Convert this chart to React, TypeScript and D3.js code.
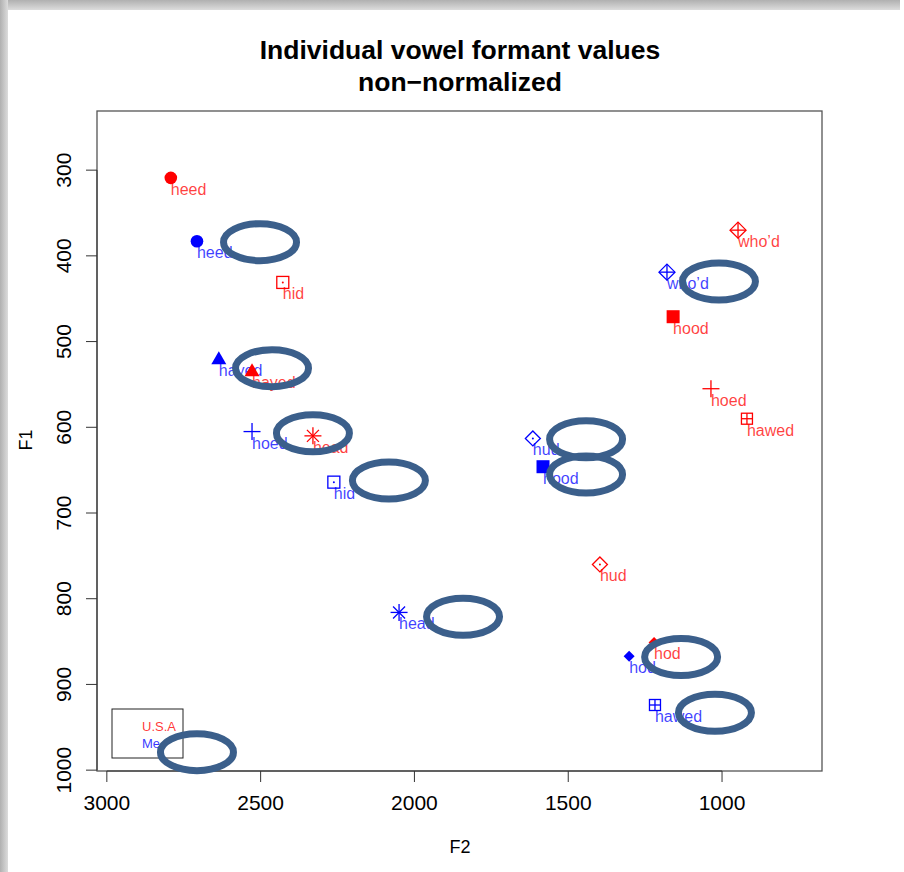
import React, { useEffect, useRef } from 'react';
import * as d3 from 'd3';

// vowel words and the plotting symbol each one uses
const words = ["heed", "hid", "hayed", "head", "hud", "hod", "hood", "who’d", "hoed", "hawed"];
const symbols = ["dot", "squareDot", "triangle", "asterisk", "diamondDot", "smallDiamond", "filledSquare", "diamondPlus", "plus", "squarePlus"];

// U.S.A speaker (red)
const usaF2 = [2792, 2428, 2528, 2330, 1397, 1221, 1159, 948, 1036, 919];
const usaF1 = [309, 431, 534, 610, 760, 851, 471, 370, 555, 590];

// Me (blue)
const meF2 = [2707, 2262, 2636, 2050, 1615, 1302, 1582, 1179, 2528, 1218];
const meF1 = [383, 664, 520, 816, 613, 867, 646, 419, 605, 924];

// hand-drawn ring annotations (F2, F1 of centre)
const ringF2 = [2502, 1010, 2463, 2330, 2083, 1442, 1442, 1842, 1133, 1023, 2707];
const ringF1 = [384, 430, 531, 607, 662, 614, 655, 821, 868, 933, 979];

const xTicks = [3000, 2500, 2000, 1500, 1000];
const yTicks = [300, 400, 500, 600, 700, 800, 900, 1000];

const legendLabels = ["U.S.A", "Me"];
const legendColors = ["red", "blue"];

export default function App() {
  const svgRef = useRef<SVGSVGElement>(null);

  useEffect(() => {
    if (!svgRef.current) return;
    const svg = d3.select(svgRef.current);
    svg.selectAll("*").remove();

    const W = 904, H = 872;
    const font = "'Liberation Sans', Arial, sans-serif";

    // page shadow
    const defs = svg.append("defs");
    const gTop = defs.append("linearGradient").attr("id", "shTop").attr("x1", 0).attr("y1", 0).attr("x2", 0).attr("y2", 1);
    gTop.append("stop").attr("offset", "0%").attr("stop-color", "#b0b0b0");
    gTop.append("stop").attr("offset", "100%").attr("stop-color", "#dcdcdc");
    const gLeft = defs.append("linearGradient").attr("id", "shLeft").attr("x1", 0).attr("y1", 0).attr("x2", 1).attr("y2", 0);
    gLeft.append("stop").attr("offset", "0%").attr("stop-color", "#b0b0b0");
    gLeft.append("stop").attr("offset", "100%").attr("stop-color", "#dcdcdc");

    svg.append("rect").attr("width", W).attr("height", H).attr("fill", "#fff");
    svg.append("rect").attr("x", 0).attr("y", 0).attr("width", W - 4).attr("height", 10).attr("fill", "url(#shTop)");
    svg.append("rect").attr("x", 0).attr("y", 0).attr("width", 8).attr("height", H).attr("fill", "url(#shLeft)");

    const left = 97, right = 822, top = 111, bottom = 771;

    const x = d3.scaleLinear().domain([3032, 675]).range([left, right]);
    const y = d3.scaleLinear().domain([231, 1001]).range([top, bottom]);

    // title
    svg.append("text")
      .attr("x", 460).attr("y", 59)
      .attr("text-anchor", "middle")
      .attr("font-family", font).attr("font-weight", "bold").attr("font-size", 26.5)
      .text("Individual vowel formant values");
    svg.append("text")
      .attr("x", 460).attr("y", 91)
      .attr("text-anchor", "middle")
      .attr("font-family", font).attr("font-weight", "bold").attr("font-size", 26.5)
      .text("non\u2212normalized");

    // box
    svg.append("rect")
      .attr("x", left).attr("y", top)
      .attr("width", right - left).attr("height", bottom - top)
      .attr("fill", "none").attr("stroke", "#555").attr("stroke-width", 1.3);

    // x axis (R style)
    const xa = svg.append("g");
    xa.append("line")
      .attr("x1", x(3000)).attr("x2", x(1000)).attr("y1", bottom).attr("y2", bottom)
      .attr("stroke", "#333");
    xTicks.forEach(t => {
      xa.append("line")
        .attr("x1", x(t)).attr("x2", x(t)).attr("y1", bottom).attr("y2", bottom + 11)
        .attr("stroke", "#333");
      xa.append("text")
        .attr("x", x(t)).attr("y", bottom + 39)
        .attr("text-anchor", "middle")
        .attr("font-family", font).attr("font-size", 21)
        .text(t);
    });
    svg.append("text")
      .attr("x", 460).attr("y", 853)
      .attr("text-anchor", "middle")
      .attr("font-family", font).attr("font-size", 18)
      .text("F2");

    // y axis
    const ya = svg.append("g");
    ya.append("line")
      .attr("x1", left).attr("x2", left).attr("y1", y(300)).attr("y2", y(1000))
      .attr("stroke", "#333");
    yTicks.forEach(t => {
      ya.append("line")
        .attr("x1", left - 11).attr("x2", left).attr("y1", y(t)).attr("y2", y(t))
        .attr("stroke", "#333");
      ya.append("text")
        .attr("transform", `translate(71,${y(t)}) rotate(-90)`)
        .attr("text-anchor", "middle")
        .attr("font-family", font).attr("font-size", 21)
        .text(t);
    });
    svg.append("text")
      .attr("transform", `translate(32,440) rotate(-90)`)
      .attr("text-anchor", "middle")
      .attr("font-family", font).attr("font-size", 18)
      .text("F1");

    // symbols
    const drawSymbol = (g: any, kind: string, cx: number, cy: number, col: string) => {
      const sw = 1.3;
      const ln = (x1: number, y1: number, x2: number, y2: number) =>
        g.append("line").attr("x1", x1).attr("y1", y1).attr("x2", x2).attr("y2", y2)
          .attr("stroke", col).attr("stroke-width", sw);
      const dot = () => g.append("circle").attr("cx", cx).attr("cy", cy).attr("r", 1).attr("fill", col);
      const diamond = (h: number, fill: boolean) =>
        g.append("path")
          .attr("d", `M${cx},${cy - h}L${cx + h},${cy}L${cx},${cy + h}L${cx - h},${cy}Z`)
          .attr("fill", fill ? col : "none")
          .attr("stroke", fill ? "none" : col).attr("stroke-width", sw);
      switch (kind) {
        case "dot":
          g.append("circle").attr("cx", cx).attr("cy", cy).attr("r", 6.3).attr("fill", col);
          break;
        case "triangle":
          g.append("path")
            .attr("d", `M${cx},${cy - 7.5}L${cx + 7.5},${cy + 5.5}L${cx - 7.5},${cy + 5.5}Z`)
            .attr("fill", col);
          break;
        case "squareDot":
          g.append("rect").attr("x", cx - 6).attr("y", cy - 6).attr("width", 12).attr("height", 12)
            .attr("fill", "none").attr("stroke", col).attr("stroke-width", sw);
          dot();
          break;
        case "asterisk":
          ln(cx - 8.5, cy, cx + 8.5, cy);
          ln(cx, cy - 8.5, cx, cy + 8.5);
          ln(cx - 6, cy - 6, cx + 6, cy + 6);
          ln(cx - 6, cy + 6, cx + 6, cy - 6);
          break;
        case "diamondDot":
          diamond(7.5, false);
          dot();
          break;
        case "smallDiamond":
          diamond(5.5, true);
          break;
        case "filledSquare":
          g.append("rect").attr("x", cx - 6.5).attr("y", cy - 6.5).attr("width", 13).attr("height", 13)
            .attr("fill", col);
          break;
        case "diamondPlus":
          diamond(8, false);
          ln(cx - 8, cy, cx + 8, cy);
          ln(cx, cy - 8, cx, cy + 8);
          break;
        case "plus":
          ln(cx - 8.5, cy, cx + 8.5, cy);
          ln(cx, cy - 8.5, cx, cy + 8.5);
          break;
        case "squarePlus":
          g.append("rect").attr("x", cx - 5.5).attr("y", cy - 5.5).attr("width", 11).attr("height", 11)
            .attr("fill", "none").attr("stroke", col).attr("stroke-width", sw);
          ln(cx - 5.5, cy, cx + 5.5, cy);
          ln(cx, cy - 5.5, cx, cy + 5.5);
          break;
      }
    };

    const drawSeries = (f2: number[], f1: number[], col: string) => {
      const g = svg.append("g");
      words.forEach((w, i) => {
        const cx = x(f2[i]), cy = y(f1[i]);
        drawSymbol(g, symbols[i], cx, cy, col);
        g.append("text")
          .attr("x", cx).attr("y", cy + 17)
          .attr("font-family", font).attr("font-size", 16)
          .attr("fill", col).attr("fill-opacity", 0.75)
          .text(w);
      });
    };

    drawSeries(meF2, meF1, "blue");
    drawSeries(usaF2, usaF1, "red");

    // legend
    const lg = svg.append("g");
    lg.append("rect")
      .attr("x", left + 15).attr("y", bottom - 62)
      .attr("width", 71).attr("height", 49)
      .attr("fill", "none").attr("stroke", "#222").attr("stroke-width", 1);
    legendLabels.forEach((l, i) => {
      lg.append("text")
        .attr("x", left + 45).attr("y", bottom - 40 + i * 17)
        .attr("font-family", font).attr("font-size", 13)
        .attr("fill", legendColors[i]).attr("fill-opacity", 0.8)
        .text(l);
    });

    // ring annotations
    svg.append("g")
      .selectAll("ellipse")
      .data(ringF2.map((f, i) => [f, ringF1[i]]))
      .enter()
      .append("ellipse")
      .attr("cx", d => x(d[0]))
      .attr("cy", d => y(d[1]))
      .attr("rx", 36.5)
      .attr("ry", 18.5)
      .attr("fill", "none")
      .attr("stroke", "#3b5f8b")
      .attr("stroke-width", 7);
  }, []);

  return (
    <svg ref={svgRef} width={904} height={872} style={{ position: "absolute", left: 0, top: 0 }}></svg>
  );
}
